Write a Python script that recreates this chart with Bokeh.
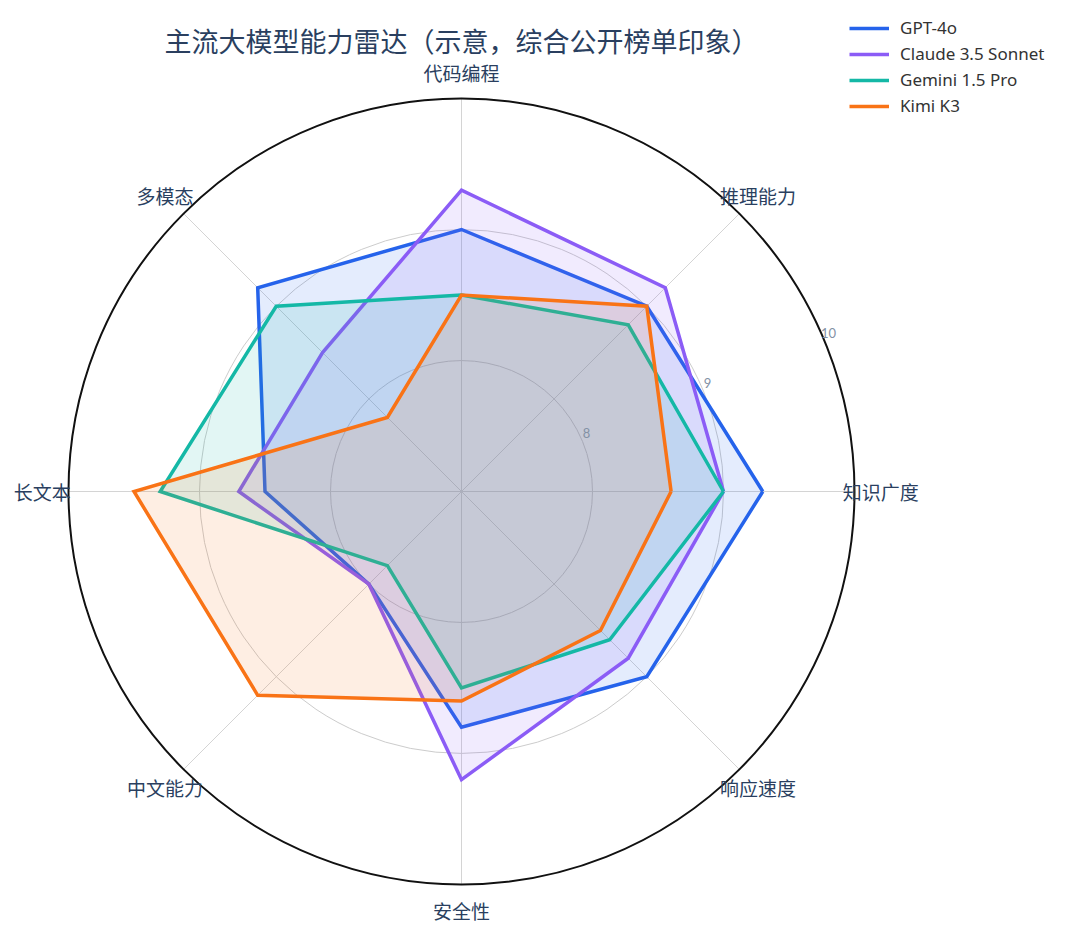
import numpy as np
from bokeh.plotting import figure
from bokeh.models import Range1d, Legend, LegendItem, Label, ColumnDataSource
from bokeh.core.properties import value
from bokeh.embed import file_html
from bokeh.resources import INLINE

# ---- data ----
categories = ["知识广度", "推理能力", "代码编程", "多模态", "长文本", "中文能力", "安全性", "响应速度"]
series_names = ["GPT-4o", "Claude 3.5 Sonnet", "Gemini 1.5 Pro", "Kimi K3"]
gpt4o = [9.3, 9.0, 9.0, 9.2, 8.5, 8.0, 8.8, 9.0]
claude = [9.0, 9.2, 9.3, 8.5, 8.7, 8.0, 9.2, 8.8]
gemini = [9.0, 8.8, 8.5, 9.0, 9.3, 7.8, 8.5, 8.6]
kimi = [8.6, 9.0, 8.5, 7.8, 9.5, 9.2, 8.6, 8.5]
colors = ["#2563eb", "#8b5cf6", "#14b8a6", "#f97316"]
radial_ticks = [8, 9, 10]
r_min, r_max = 7, 10
title_text = "主流大模型能力雷达（示意，综合公开榜单印象）"

# ---- layout ----
W, H = 1064, 926
S = 131.0  # px per radial unit
cx, cy = 461, 491  # center in frame px (from left, from top)

p = figure(width=W, height=H, output_backend="svg", toolbar_location=None,
           x_range=Range1d(-cx / S, (W - cx) / S), y_range=Range1d(-(H - cy) / S, cy / S),
           min_border=0, outline_line_color=None)
p.axis.visible = False
p.grid.visible = False
p.background_fill_color = "white"
p.border_fill_color = "white"

n = len(categories)
angles = np.deg2rad(np.arange(n) * 360.0 / n)
R = r_max - r_min

# angular grid lines
for a in angles:
    p.line([0, R * np.cos(a)], [0, R * np.sin(a)], line_color="#d4d4d4", line_width=1)
# radial grid circles
for t in radial_ticks[:-1]:
    p.circle(x=0, y=0, radius=t - r_min, fill_color=None, line_color="#cccccc", line_width=1)

# series
legend_items = []
for name, vals, col in zip(series_names, [gpt4o, claude, gemini, kimi], colors):
    rr = np.array(vals) - r_min
    xs = list(rr * np.cos(angles)) + [rr[0] * np.cos(angles[0])]
    ys = list(rr * np.sin(angles)) + [rr[0] * np.sin(angles[0])]
    p.patch(xs, ys, fill_color=col, fill_alpha=0.12, line_color=None)
    lr = p.line(xs, ys, line_color=col, line_width=3.5, line_join="miter")
    legend_items.append(LegendItem(label=name, renderers=[lr]))

# outer circle
p.circle(x=0, y=0, radius=R, fill_color=None, line_color="#111111", line_width=2)

# category labels
lab_r = 3.2
src = ColumnDataSource(dict(x=lab_r * np.cos(angles), y=lab_r * np.sin(angles), t=categories))
p.text(x="x", y="y", text="t", source=src, text_align="center", text_baseline="middle",
       text_font=value("Noto Sans CJK SC"), text_font_size="19px", text_color="#2a3f5f")

# radial tick labels
ta = np.deg2rad(22.5)
tr = np.array(radial_ticks, dtype=float) - r_min
tsrc = ColumnDataSource(dict(x=tr * np.cos(ta), y=tr * np.sin(ta), t=[str(v) for v in radial_ticks]))
p.text(x="x", y="y", text="t", source=tsrc, text_align="center", text_baseline="middle",
       x_offset=4, y_offset=-8, text_font=value("Lato"), text_font_size="13px", text_color="#8391a5")

# title
p.add_layout(Label(x=cx, y=H - 40, x_units="screen", y_units="screen", text=title_text,
                   text_align="center", text_baseline="middle",
                   text_font="Noto Sans CJK SC", text_font_size="27px", text_color="#2a3f5f"))

legend = Legend(items=legend_items, location=(849, H - 20 - 97), padding=0, margin=0,
                spacing=3, label_height=20, glyph_height=20, glyph_width=40, label_standoff=11,
                label_text_font="Noto Sans", label_text_font_size="17px", label_text_color="#333333",
                background_fill_alpha=0, border_line_color=None)
p.add_layout(legend)

open("out.html", "w").write(file_html(p, INLINE))
